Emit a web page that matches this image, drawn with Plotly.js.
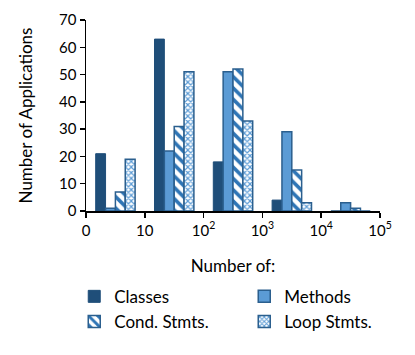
<!DOCTYPE html>
<html>
<head>
<meta charset="utf-8">
<script src="https://cdn.plot.ly/plotly-3.0.1.min.js"></script>
<style>
  html, body { margin: 0; padding: 0; background: #fff; }
  #chart { width: 415px; height: 355px; }
</style>
</head>
<body>
<div id="chart"></div>
<script>
// bins are decades: 1-10, 10-100, ... 10^4-10^5
const binCenters = [0.5, 1.5, 2.5, 3.5, 4.5];
const tickVals   = [0, 1, 2, 3, 4, 5];
const tickText   = ["0", "10", "10<sup>2</sup>", "10<sup>3</sup>", "10<sup>4</sup>", "10<sup>5</sup>"];

const classes   = [21, 63, 18, 4, 0];
const methods   = [1, 22, 51, 29, 3];
const condStmts = [7, 31, 52, 15, 1];
const loopStmts = [19, 51, 33, 3, 0];

const C = {
  dark:    "#1F4E79",
  mid:     "#5B9BD5",
  stripe:  "#2E75B6",
  outline: "#2B5F8E",
};

const FONT = "Lato, 'Open Sans', sans-serif";

const traces = [
  {
    type: "bar", name: "Classes", x: binCenters, y: classes,
    marker: { color: C.dark, line: { color: C.dark, width: 1 } },
  },
  {
    type: "bar", name: "Methods", x: binCenters, y: methods,
    marker: { color: C.mid, line: { color: C.outline, width: 1.5 } },
  },
  {
    type: "bar", name: "Cond. Stmts.", x: binCenters, y: condStmts,
    marker: {
      color: "#fff",
      line: { color: C.outline, width: 1.5 },
      pattern: { shape: "\\", fgcolor: C.stripe, bgcolor: "#fff", size: 8, solidity: 0.45 },
    },
  },
  {
    type: "bar", name: "Loop Stmts.", x: binCenters, y: loopStmts,
    marker: {
      color: "#fff",
      line: { color: C.outline, width: 1.5 },
      pattern: { shape: "x", fgcolor: C.mid, bgcolor: "#fff", size: 4, solidity: 0.5 },
    },
  },
];

const layout = {
  width: 415, height: 355,
  paper_bgcolor: "#fff", plot_bgcolor: "#fff",
  font: { family: FONT, size: 15, color: "#000" },
  margin: { l: 86, r: 35, t: 20, b: 144 },
  barmode: "group",
  bargap: 0.33,
  bargroupgap: 0,
  showlegend: true,
  xaxis: {
    range: [0, 5],
    tickvals: tickVals, ticktext: tickText,
    showgrid: false, zeroline: false,
    showline: true, linecolor: "#000", linewidth: 1.5,
    ticks: "outside", ticklen: 5, tickcolor: "#000", tickwidth: 1.5,
    tickfont: { size: 15 },
    title: { text: "Number of:", font: { size: 17 }, standoff: 22 },
  },
  yaxis: {
    range: [0, 70], dtick: 10,
    showgrid: false, zeroline: false,
    showline: true, linecolor: "#000", linewidth: 1.5,
    ticks: "outside", ticklen: 5, tickcolor: "#000", tickwidth: 1.5,
    tickfont: { size: 15 },
    title: { text: "Number of Applications", font: { size: 17 }, standoff: 22 },
  },
  legend: {
    orientation: "h",
    x: -0.04, xanchor: "left",
    y: -0.355, yanchor: "top",
    entrywidth: 125,
    itemwidth: 30,
    tracegroupgap: 0,
    font: { size: 17 },
    traceorder: "normal",
  },
};

Plotly.newPlot("chart", traces, layout, { displayModeBar: false, staticPlot: true });
</script>
</body>
</html>
